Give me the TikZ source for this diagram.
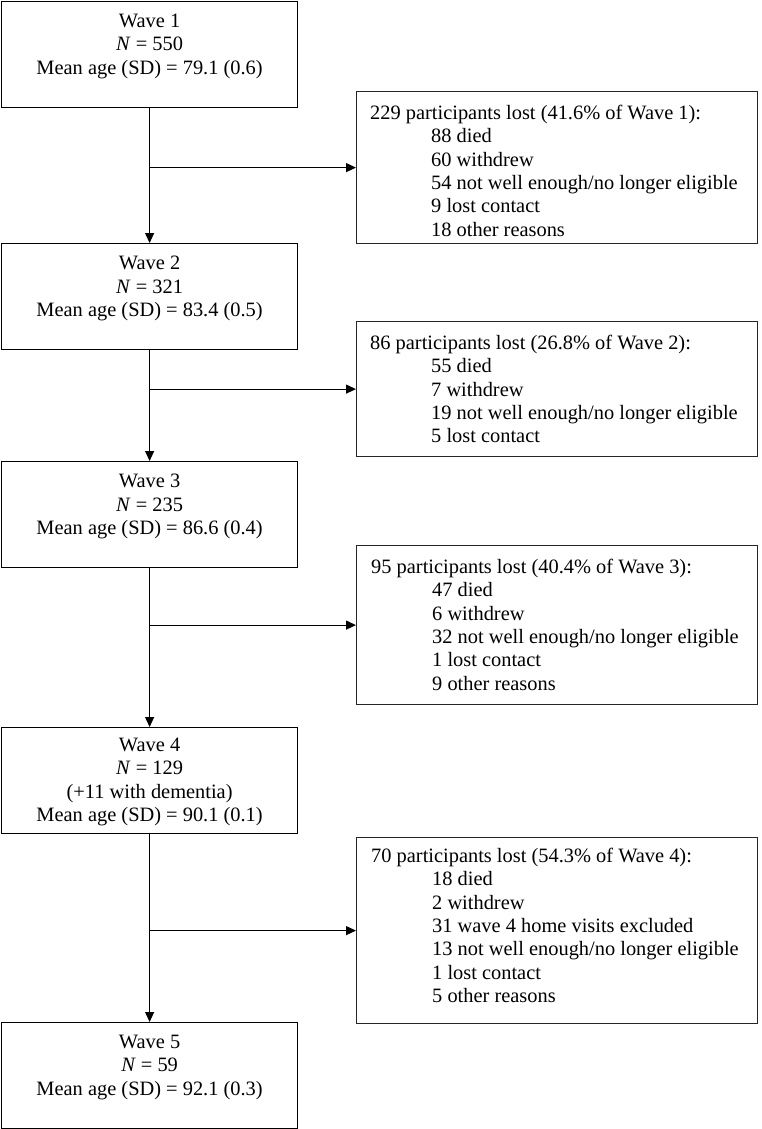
\documentclass[tikz,border=0pt]{standalone}
\usepackage{fontspec}
\setmainfont{Liberation Serif}
\usetikzlibrary{arrows.meta}
\begin{document}
\begin{tikzpicture}[x=1pt,y=-1pt,
  every node/.style={font=\fontsize{20.4}{23.3}\selectfont},
  wbox/.style={draw=black, line width=1.2pt, inner sep=0pt, anchor=north west, minimum width=296pt},
  lbox/.style={draw=black!85, line width=1.2pt, inner sep=0pt, anchor=north west, minimum width=401pt},
  wtext/.style={anchor=north, align=center, inner sep=0pt},
  ltext/.style={anchor=north west, align=left, inner sep=0pt},
  arr/.style={line width=1.2pt, -{Triangle[length=10pt,width=9pt]}}
]
\useasboundingbox (0,0) rectangle (761,1129);
\newcommand{\ind}{\hspace*{61pt}}
% wave boxes
\node[wbox, minimum height=106pt] (w1) at (1,1) {};
\node[wbox, minimum height=106pt] (w2) at (1,243) {};
\node[wbox, minimum height=106pt] (w3) at (1,461) {};
\node[wbox, minimum height=106pt] (w4) at (1,727) {};
\node[wbox, minimum height=105.5pt] (w5) at (1,1022) {};
\node[wtext] (t1) at ([yshift=-13pt]w1.north) {Wave 1\\\textit{N} = 550\\Mean age (SD) = 79.1 (0.6)};
\node[wtext] (t2) at ([yshift=-13pt]w2.north) {Wave 2\\\textit{N} = 321\\Mean age (SD) = 83.4 (0.5)};
\node[wtext] (t3) at ([yshift=-13pt]w3.north) {Wave 3\\\textit{N} = 235\\Mean age (SD) = 86.6 (0.4)};
\node[wtext] (t4) at ([yshift=-11pt]w4.north) {Wave 4\\\textit{N} = 129\\(+11 with dementia)\\Mean age (SD) = 90.1 (0.1)};
\node[wtext] (t5) at ([yshift=-13pt]w5.north) {Wave 5\\\textit{N} = 59\\Mean age (SD) = 92.1 (0.3)};
% loss boxes
\node[lbox, minimum height=152pt] (l1) at (356,91) {};
\node[lbox, minimum height=135pt] (l2) at (356,321) {};
\node[lbox, minimum height=159pt] (l3) at (356,545) {};
\node[lbox, minimum height=186pt] (l4) at (356,837) {};
\node[ltext] (s1) at ([xshift=14pt,yshift=-14pt]l1.north west) {229 participants lost (41.6\% of Wave 1):\\\ind 88 died\\\ind 60 withdrew\\\ind 54 not well enough/no longer eligible\\\ind 9 lost contact\\\ind 18 other reasons};
\node[ltext] (s2) at ([xshift=14pt,yshift=-14pt]l2.north west) {86 participants lost (26.8\% of Wave 2):\\\ind 55 died\\\ind 7 withdrew\\\ind 19 not well enough/no longer eligible\\\ind 5 lost contact};
\node[ltext] (s3) at ([xshift=15pt,yshift=-14pt]l3.north west) {95 participants lost (40.4\% of Wave 3):\\\ind 47 died\\\ind 6 withdrew\\\ind 32 not well enough/no longer eligible\\\ind 1 lost contact\\\ind 9 other reasons};
\node[ltext] (s4) at ([xshift=15pt,yshift=-11pt]l4.north west) {70 participants lost (54.3\% of Wave 4):\\\ind 18 died\\\ind 2 withdrew\\\ind 31 wave 4 home visits excluded\\\ind 13 not well enough/no longer eligible\\\ind 1 lost contact\\\ind 5 other reasons};
% connectors
\coordinate (c1) at (w1.south |- l1.west);
\coordinate (c2) at (w2.south |- l2.west);
\coordinate (c3) at (w3.south |- l3.west);
\coordinate (c4) at (w4.south |- l4.west);
\draw[arr] (w1.south) -- (w2.north);
\draw[arr] (w2.south) -- (w3.north);
\draw[arr] (w3.south) -- (w4.north);
\draw[arr] (w4.south) -- (w5.north);
\draw[arr] (c1) -- (l1.west);
\draw[arr] (c2) -- (l2.west);
\draw[arr] (c3) -- (l3.west);
\draw[arr] (c4) -- (l4.west);
\end{tikzpicture}
\end{document}
